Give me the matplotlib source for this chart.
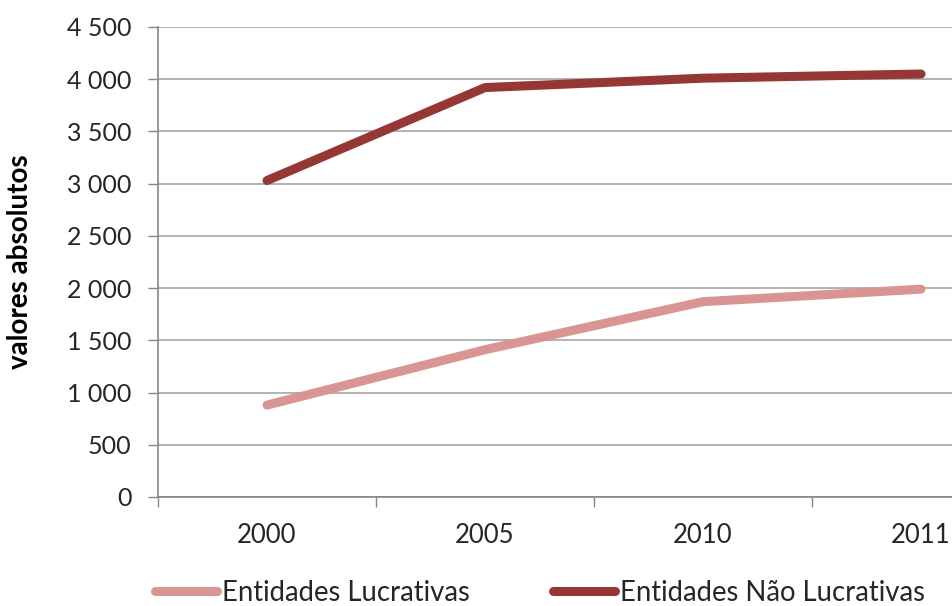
import matplotlib.pyplot as plt
from matplotlib.ticker import FuncFormatter, FixedLocator, NullFormatter

plt.rcParams['font.family'] = ['Lato', 'DejaVu Sans']

years = ["2000", "2005", "2010", "2011"]
lucrativas = [880, 1410, 1870, 1990]
nao_lucrativas = [3030, 3920, 4010, 4050]

fig = plt.figure(figsize=(9.52, 6.06), dpi=100)
ax = fig.add_axes([158/952, 109/606, 872/952, 470/606])

x = range(len(years))
ax.plot(x, lucrativas, color='#D99594', lw=6.5, solid_capstyle='round',
        label='Entidades Lucrativas', zorder=3)
ax.plot(x, nao_lucrativas, color='#953735', lw=6.5, solid_capstyle='round',
        label='Entidades Não Lucrativas', zorder=3)

ax.set_xlim(-0.5, len(years) - 0.5)
ax.set_ylim(0, 4500)
ax.set_yticks(range(0, 4501, 500))
ax.yaxis.set_major_formatter(FuncFormatter(lambda v, p: '{:,}'.format(int(v)).replace(',', ' ')))

# category boundaries as major ticks, labels on minor ticks
ax.xaxis.set_major_locator(FixedLocator([i - 0.5 for i in range(len(years) + 1)]))
ax.xaxis.set_major_formatter(NullFormatter())
ax.xaxis.set_minor_locator(FixedLocator(list(x)))
ax.set_xticklabels(years, minor=True)
ax.tick_params(axis='x', which='minor', length=0, pad=19, labelsize=18.5, colors='#262626')
ax.tick_params(axis='x', which='major', length=7, width=1, color='#868686')
ax.tick_params(axis='y', length=7, width=1, color='#868686', labelsize=18,
               labelcolor='#262626', pad=12)

ax.grid(axis='y', color='#A6A6A6', lw=1.2)
ax.set_axisbelow(True)
for s in ['top', 'right']:
    ax.spines[s].set_visible(False)
for s in ['left', 'bottom']:
    ax.spines[s].set_color('#868686')
    ax.spines[s].set_linewidth(1.2)

fig.text(20/952, 1 - 262/606, 'valores absolutos', rotation=90, fontsize=20,
         fontweight='bold', ha='center', va='center')

fig.legend(loc='center', bbox_to_anchor=(540/952, 1 - 593/606), ncol=2, frameon=False,
           fontsize=19.8, handlelength=2.25, handletextpad=0.18, columnspacing=3.0,
           labelcolor='#262626')

fig.savefig('out.png', dpi=100)
